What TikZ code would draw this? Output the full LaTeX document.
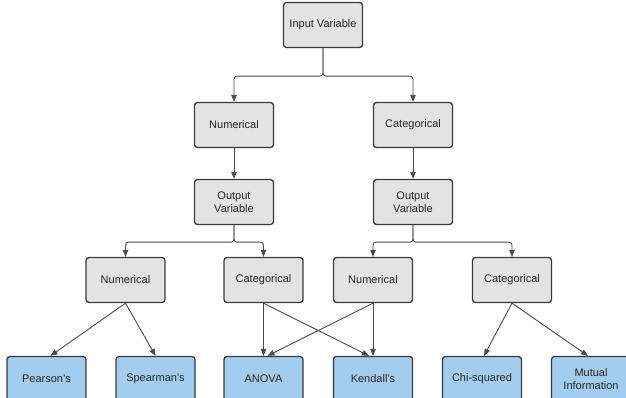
\documentclass[tikz,border=0pt]{standalone}
\usepackage{fontspec}
\setmainfont{Liberation Sans}
\usetikzlibrary{arrows.meta}
\definecolor{boxgray}{HTML}{E3E3E3}
\definecolor{boxblue}{HTML}{A3CDEE}
\definecolor{edgecol}{HTML}{3A3A3A}
\definecolor{linecol}{HTML}{4A4A4A}
\tikzset{
  base/.style={draw=edgecol, line width=1.3pt, rounded corners=3pt, minimum width=79pt, minimum height=45pt, inner sep=1pt, align=center, font=\fontsize{11}{13}\selectfont, text=black!85},
  graybox/.style={base, fill=boxgray},
  bluebox/.style={base, fill=boxblue},
  conn/.style={draw=linecol, line width=0.9pt, -{Triangle[length=7pt,width=5.5pt]}, rounded corners=3pt},
}
\begin{document}
\begin{tikzpicture}[x=1pt,y=-1pt]
\useasboundingbox (0,0) rectangle (626,398);
\clip (0,0) rectangle (626,398);
\node[graybox] (in) at (323,25) {Input Variable};
\node[graybox] (numA) at (234,125) {Numerical};
\node[graybox] (catA) at (413,125) {Categorical};
\node[graybox] (outL) at (234,202) {Output\\Variable};
\node[graybox] (outR) at (413,202) {Output\\Variable};
\node[graybox] (numL) at (125.5,280) {Numerical};
\node[graybox] (catL) at (263.5,280) {Categorical};
\node[graybox] (numR) at (373,280) {Numerical};
\node[graybox] (catR) at (512,280) {Categorical};
\node[bluebox] (pear) at (46.5,379) {Pearson's};
\node[bluebox] (spear) at (155.5,379) {Spearman's};
\node[bluebox] (anova) at (263.5,379) {ANOVA};
\node[bluebox] (kend) at (373,379) {Kendall's};
\node[bluebox] (chi) at (482,379) {Chi-squared};
\node[bluebox] (mi) at (591,379) {Mutual\\Information};
% top split
\draw[conn] (in.south) -- ++(0,28) -| (numA.north);
\draw[conn] (in.south) -- ++(0,28) -| (catA.north);
\draw[conn] (numA.south) -- (outL.north);
\draw[conn] (catA.south) -- (outR.north);
\draw[conn] (outL.south) -- ++(0,17) -| (numL.north);
\draw[conn] (outL.south) -- ++(0,17) -| (catL.north);
\draw[conn] (outR.south) -- ++(0,17) -| (numR.north);
\draw[conn] (outR.south) -- ++(0,17) -| (catR.north);
% leaves
\draw[conn] (numL.south) -- ([xshift=4pt]pear.north);
\draw[conn] (numL.south) -- (spear.north);
\draw[conn] (catL.south) -- (anova.north);
\draw[conn] (catL.south) -- ([xshift=-4pt]kend.north);
\draw[conn] (numR.south) -- (kend.north);
\draw[conn] (numR.south) -- ([xshift=4pt]anova.north);
\draw[conn] (catR.south) -- ([xshift=2pt]chi.north);
\draw[conn] (catR.south) -- ([xshift=-3pt]mi.north);
\end{tikzpicture}
\end{document}
